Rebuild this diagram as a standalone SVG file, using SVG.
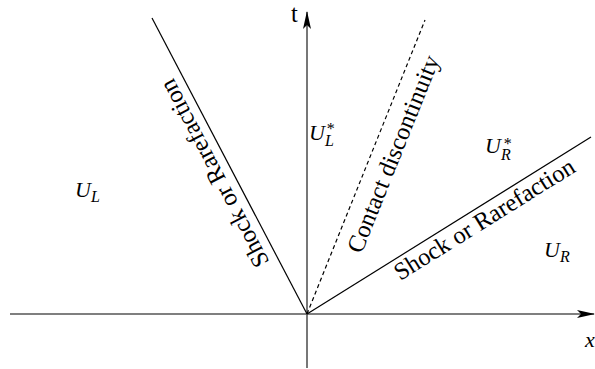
<svg xmlns="http://www.w3.org/2000/svg" width="595" height="369" viewBox="0 0 595 369">
<style>
.ax{stroke:#555;stroke-width:1.6;fill:none}
.ln{stroke:#000;stroke-width:1.2;fill:none}
.lab{font-family:"Liberation Serif",serif;font-size:24.5px;fill:#000}
.it{font-family:"Liberation Serif",serif;font-style:italic;font-size:22px;fill:#000}
.sub{font-size:16px}
.star{font-style:normal;font-size:16px}
</style>
<defs>
<marker id="arr" markerWidth="18" markerHeight="8" refX="17" refY="4" orient="auto" markerUnits="userSpaceOnUse">
<path d="M0,0 L18,4 L0,8 L4,4 Z" fill="#000"/>
</marker>
</defs>
<g id="connectors">
<line class="ax" x1="10" y1="314" x2="594" y2="314" marker-end="url(#arr)"/>
<line class="ax" x1="307" y1="368" x2="307" y2="12" marker-end="url(#arr)"/>
<line class="ln" x1="307" y1="314" x2="152" y2="18"/>
<line class="ln" x1="307" y1="314" x2="425" y2="20" stroke-dasharray="4,3"/>
<line class="ln" x1="307" y1="314" x2="591" y2="137"/>
</g>
<g id="wave-labels">
<text class="lab" text-anchor="middle" transform="translate(221.4,169.7) rotate(-117.64)">Shock or Rarefaction</text>
<text class="lab" text-anchor="middle" transform="translate(400.6,156.9) rotate(-68.13)">Contact discontinuity</text>
<text class="lab" text-anchor="middle" transform="translate(488.6,226) rotate(-31.93)">Shock or Rarefaction</text>
</g>
<g id="axis-labels">
<text class="lab" x="291" y="22" font-size="22">t</text>
<text class="it" x="585" y="347">x</text>
</g>
<g id="states">
<text class="it" x="75" y="197">U<tspan class="sub" dy="5">L</tspan></text>
<text class="it" x="309" y="140">U<tspan class="sub" dy="6">L</tspan><tspan class="star" dx="-7" dy="-12">*</tspan></text>
<text class="it" x="485" y="153">U<tspan class="sub" dy="7">R</tspan><tspan class="star" dx="-7" dy="-11">*</tspan></text>
<text class="it" x="544" y="257">U<tspan class="sub" dy="5">R</tspan></text>
</g>
</svg>
